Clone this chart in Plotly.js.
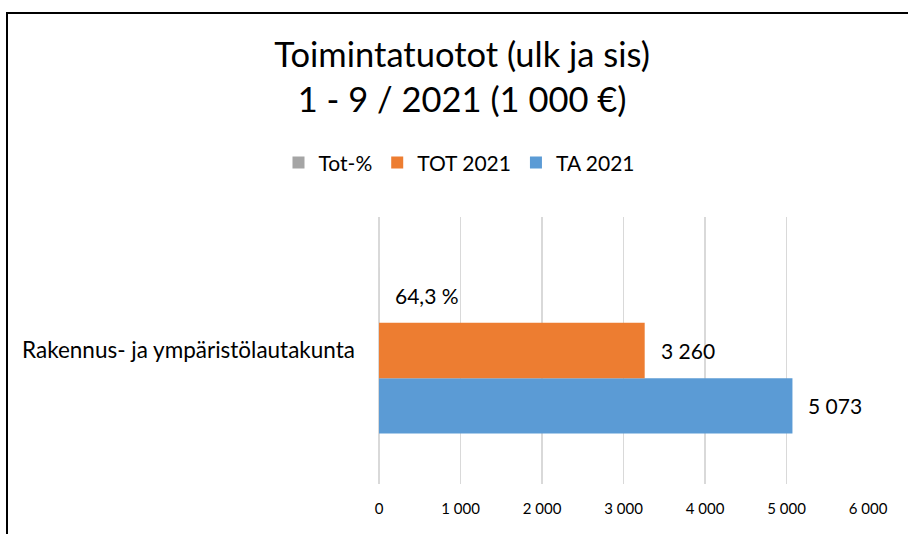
<!DOCTYPE html>
<html><head><meta charset="utf-8">
<script src="https://cdn.plot.ly/plotly-3.0.1.min.js"></script>
<style>
html,body{margin:0;padding:0;width:908px;height:534px;overflow:hidden;background:#fff;}
#chart{position:absolute;left:0;top:0;width:908px;height:534px;}
#frame{position:absolute;left:5.5px;top:11.5px;width:1000px;height:700px;border:2px solid #000;pointer-events:none;}
</style></head>
<body>
<div id="chart"></div>
<div id="frame"></div>
<script>
const categories = ["Rakennus- ja ympäristölautakunta"];
const seriesNames = ["TA 2021", "TOT 2021", "Tot-%"];
const taValues = [5073];
const totValues = [3260];
const pctValues = [0.643];
const colors = ["#5B9BD5", "#ED7D31", "#A5A5A5"];
const xTicks = [0, 1000, 2000, 3000, 4000, 5000, 6000];
const xTickLabels = ["0", "1 000", "2 000", "3 000", "4 000", "5 000", "6 000"];

const FONT = "Lato, 'Open Sans', sans-serif";
const fmt = v => String(Math.round(v)).replace(/\B(?=(\d{3})+(?!\d))/g, " ");
const fmtPct = v => (v*100).toFixed(1).replace(".", ",") + " %";

const values = [taValues, totValues, pctValues];
const traces = values.map((vals, i) => ({
  type: "bar", orientation: "h", name: seriesNames[i],
  y: categories, x: vals,
  marker: {color: colors[i]},
  hoverinfo: "skip"
}));

const bargap = 0.378;
const barW = (1 - bargap) / 3;
const annotations = [];
values.forEach((vals, i) => {
  vals.forEach((v, j) => {
    annotations.push({
      xref: "x", yref: "y",
      x: v, y: j + (i - 1) * barW,
      text: i === 2 ? fmtPct(v) : fmt(v),
      showarrow: false, xanchor: "left", yanchor: "middle", xshift: 14,
      font: {family: FONT, size: 21, color: "#000"}
    });
  });
});

const layout = {
  width: 908, height: 534,
  margin: {l: 379, r: 40, t: 217, b: 50},
  paper_bgcolor: "#fff", plot_bgcolor: "#fff",
  font: {family: FONT, color: "#000"},
  title: {
    text: "Toimintatuotot (ulk ja sis)<br>1 - 9 / 2021 (1 000 €)",
    font: {family: FONT, size: 34.5, color: "#000"},
    x: 0.509, xanchor: "center", yref: "container", y: 0.874, yanchor: "middle"
  },
  barmode: "group", bargap: bargap, bargroupgap: 0,
  showlegend: true,
  legend: {
    orientation: "h", traceorder: "reversed",
    xref: "container", yref: "container",
    x: 0.5055, xanchor: "center", y: 0.695, yanchor: "middle",
    font: {family: FONT, size: 21, color: "#000"},
    itemwidth: 30
  },
  xaxis: {
    range: [0, 6000], tickvals: xTicks, ticktext: xTickLabels,
    showgrid: true, gridcolor: "#D9D9D9", gridwidth: 1.3,
    zeroline: true, zerolinecolor: "#D9D9D9", zerolinewidth: 1.3,
    showline: false, ticks: "", ticklabelstandoff: 14,
    tickfont: {family: FONT, size: 15, color: "#000"},
    fixedrange: true
  },
  yaxis: {
    type: "category", showgrid: false, zeroline: false, showline: false,
    ticks: "", ticklabelstandoff: 23,
    tickfont: {family: FONT, size: 22.5, color: "#000"},
    fixedrange: true
  },
  annotations: annotations
};

Plotly.newPlot("chart", traces, layout, {displayModeBar: false, staticPlot: true});
</script>
</body></html>
